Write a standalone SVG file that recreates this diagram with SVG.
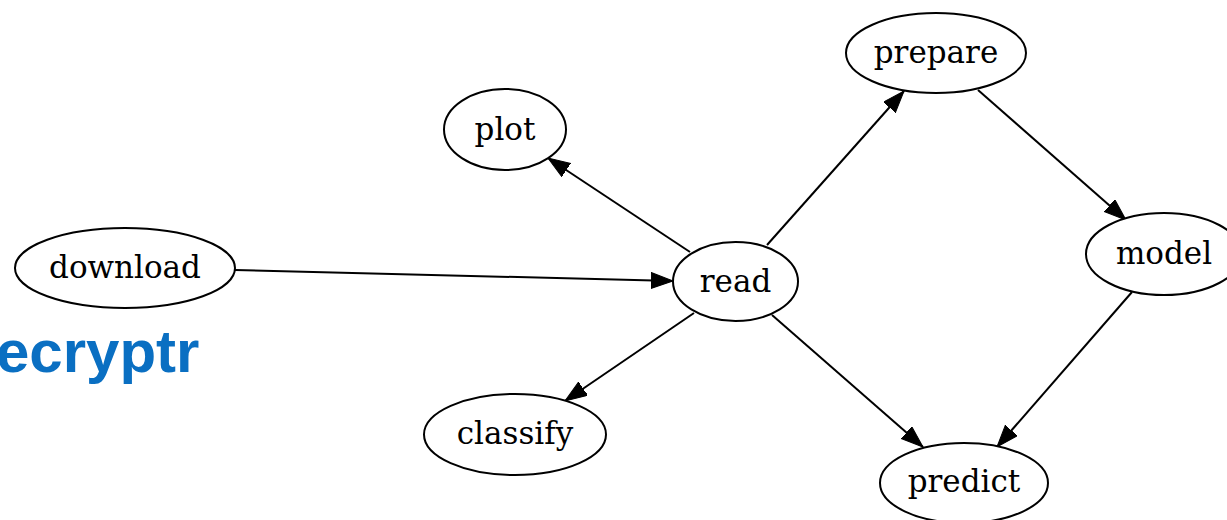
<svg xmlns="http://www.w3.org/2000/svg" width="1227" height="520" viewBox="0 0 1227 520">
<style>
.n ellipse{fill:#fff;stroke:#000;stroke-width:2}
.n text{font-family:"DejaVu Serif",serif;font-size:31px;text-anchor:middle;fill:#000}
.e line{stroke:#000;stroke-width:2;marker-end:url(#ah)}
</style>
<defs>
<marker id="ah" markerUnits="userSpaceOnUse" markerWidth="24" markerHeight="18" refX="22" refY="8" orient="auto">
<path d="M0,0 L22,8 L0,16 Z" fill="#000" stroke="#000" stroke-width="1"/>
</marker>
</defs>
<rect width="1227" height="520" fill="#fff"/>
<text x="-4" y="372" font-family="Liberation Sans, Arial, sans-serif" font-weight="bold" font-size="60" fill="#0a6fc2">ecryptr</text>
<g class="e" id="edges">
<line x1="235" y1="270" x2="673" y2="281"/>
<line x1="690" y1="252" x2="548" y2="158"/>
<line x1="767" y1="245" x2="904" y2="91"/>
<line x1="978" y1="90" x2="1126" y2="220"/>
<line x1="1132" y1="292" x2="997" y2="447"/>
<line x1="772" y1="315" x2="923" y2="447"/>
<line x1="694" y1="313" x2="565" y2="401"/>
</g>
<g class="n" id="download"><ellipse cx="125" cy="268" rx="110" ry="40"/><text x="125" y="278">download</text></g>
<g class="n" id="plot"><ellipse cx="505" cy="129.5" rx="61" ry="40.5"/><text x="505" y="140">plot</text></g>
<g class="n" id="read"><ellipse cx="735.5" cy="281.5" rx="62.5" ry="39.5"/><text x="735.5" y="292">read</text></g>
<g class="n" id="prepare"><ellipse cx="936" cy="53" rx="90" ry="40"/><text x="936" y="63">prepare</text></g>
<g class="n" id="model"><ellipse cx="1164" cy="254" rx="78" ry="41"/><text x="1164" y="264">model</text></g>
<g class="n" id="predict"><ellipse cx="964" cy="483" rx="84" ry="40"/><text x="964" y="492">predict</text></g>
<g class="n" id="classify"><ellipse cx="515" cy="434.5" rx="91" ry="40.5"/><text x="515" y="444">classify</text></g>
</svg>
